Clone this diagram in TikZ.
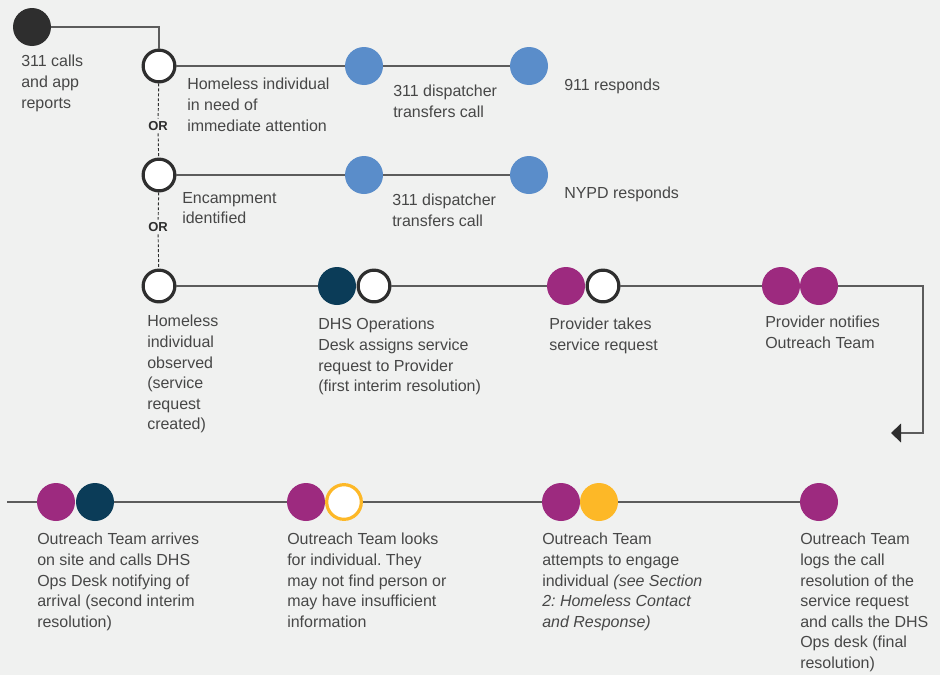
\documentclass[tikz,border=0pt]{standalone}
\usepackage{fontspec}
\setmainfont{Liberation Sans}
\usetikzlibrary{arrows.meta}
\definecolor{bgc}{HTML}{F0F1F0}
\definecolor{txt}{HTML}{474747}
\definecolor{linec}{HTML}{5C5C5C}
\definecolor{darkc}{HTML}{2E2E2E}
\definecolor{bluec}{HTML}{5A8DCA}
\definecolor{magc}{HTML}{9D2A7F}
\definecolor{navyc}{HTML}{0B3C58}
\definecolor{yelc}{HTML}{FDB827}
\frenchspacing
\begin{document}
\begin{tikzpicture}[x=0.75pt, y=-0.75pt, font=\fontsize{12}{15.45}\selectfont,
    dot/.style={circle, minimum size=28.5pt, inner sep=0, fill=#1},
    ring/.style={circle, minimum size=23.8pt, inner sep=0, fill=white, draw=#1, line width=2.4pt},
    lbl/.style={anchor=north west, align=left, inner sep=0, text=txt},
    orlbl/.style={font=\fontsize{9.75}{10}\selectfont\bfseries, text=darkc, inner sep=1.9pt},
    link/.style={draw=linec, line width=1.1pt},
    dotline/.style={draw=darkc, line width=0.7pt, dash pattern=on 2.2pt off 1.5pt}]
        \fill[bgc] (0,0) rectangle (940,675);

        \node[dot=darkc] (src) at (32,27) {};
        \node[ring=darkc] (w1) at (159,66) {};
        \node[ring=darkc] (w2) at (159,175) {};
        \node[ring=darkc] (w3) at (159,286) {};
        \node[orlbl] (or1) at (158,126) {OR};
        \node[orlbl] (or2) at (158,227) {OR};

        \node[dot=bluec] (b1) at (364,66) {};
        \node[dot=bluec] (b2) at (529,66) {};
        \node[dot=bluec] (b3) at (364,175) {};
        \node[dot=bluec] (b4) at (529,175) {};

        \node[dot=navyc] (d1) at (337,286) {};
        \node[ring=darkc] (d2) at (374,286) {};
        \node[dot=magc] (p1) at (566,286) {};
        \node[ring=darkc] (p2) at (603,286) {};
        \node[dot=magc] (n1) at (781,286) {};
        \node[dot=magc] (n2) at (819,286) {};
        \coordinate (bend) at (923,433);
        \coordinate (tip) at (891,433);

        \coordinate (start) at (7,502);
        \node[dot=magc] (q1) at (56,502) {};
        \node[dot=navyc] (q2) at (95,502) {};
        \node[dot=magc] (r1) at (306,502) {};
        \node[ring=yelc, minimum size=26pt] (r2) at (344,502) {};
        \node[dot=magc] (s1) at (561,502) {};
        \node[dot=yelc] (s2) at (599,502) {};
        \node[dot=magc] (f) at (819,502) {};

        \node[lbl] (tsrc) at (21,55) {311 calls\\and app\\reports};
        \node[lbl] (t1) at (187,78) {Homeless individual\\in need of\\immediate attention};
        \node[lbl] (t2) at (182,192) {Encampment\\identified};
        \node[lbl] (t3) at (147,315) {Homeless\\individual\\observed\\(service\\request\\created)};
        \node[lbl] (tb1) at (393,85) {311 dispatcher\\transfers call};
        \node[lbl] (tb2) at (564,79) {911 responds};
        \node[lbl] (tb3) at (392,194) {311 dispatcher\\transfers call};
        \node[lbl] (tb4) at (564,187) {NYPD responds};
        \node[lbl] (td) at (318,318) {DHS Operations\\Desk assigns service\\request to Provider\\(first interim resolution)};
        \node[lbl] (tp) at (549,318) {Provider takes\\service request};
        \node[lbl] (tn) at (765,316) {Provider notifies\\Outreach Team};
        \node[lbl] (tq) at (37,533) {Outreach Team arrives\\on site and calls DHS\\Ops Desk notifying of\\arrival (second interim\\resolution)};
        \node[lbl] (tr) at (287,533) {Outreach Team looks\\for individual. They\\may not find person or\\may have insufficient\\information};
        \node[lbl] (ts) at (542,533) {Outreach Team\\attempts to engage\\individual \textit{(see Section}\\\textit{2: Homeless Contact}\\\textit{and Response)}};
        \node[lbl] (tf) at (800,533) {Outreach Team\\logs the call\\resolution of the\\service request\\and calls the DHS\\Ops desk (final\\resolution)};

        \draw[link] (src) -| (w1);
        \draw[link] (w1) -- (b1);
        \draw[link] (b1) -- (b2);
        \draw[link] (w2) -- (b3);
        \draw[link] (b3) -- (b4);
        \draw[dotline] (w1) -- (or1);
        \draw[dotline] (or1) -- (w2);
        \draw[dotline] (w2) -- (or2);
        \draw[dotline] (or2) -- (w3);

        \draw[link] (w3) -- (d1);
        \draw[link] (d2) -- (p1);
        \draw[link] (p2) -- (n1);
        \draw[link, -{Triangle[length=7.5pt, width=14pt, color=darkc]}] (n2) -| (bend) -- (tip);

        \draw[link] (start) -- (q1);
        \draw[link] (q2) -- (r1);
        \draw[link] (r2) -- (s1);
        \draw[link] (s2) -- (f);
\end{tikzpicture}
\end{document}
